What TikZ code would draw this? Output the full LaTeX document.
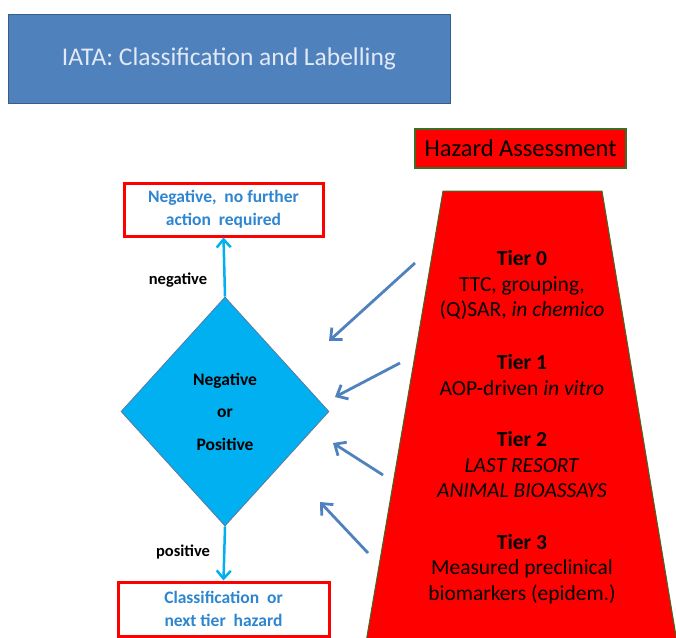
\documentclass[tikz,border=0pt]{standalone}
\usepackage{fontspec}
\setmainfont{Carlito}
\usetikzlibrary{arrows.meta,shapes.geometric}
\definecolor{titleblue}{RGB}{79,129,189}
\definecolor{titleedge}{RGB}{56,93,138}
\definecolor{titletext}{RGB}{225,233,245}
\definecolor{cyanfill}{RGB}{0,176,240}
\definecolor{arrowblue}{RGB}{79,129,189}
\definecolor{hazred}{RGB}{255,0,0}
\definecolor{hazgreen}{RGB}{60,110,40}
\definecolor{boxtext}{RGB}{46,134,208}
\definecolor{diaedge}{RGB}{90,120,160}
\tikzset{
  x=1pt, y=-1pt,
  titlebox/.style={draw=titleedge, line width=1pt, fill=titleblue, minimum width=442pt, minimum height=89pt, inner sep=0pt, text=titletext, font=\fontsize{25.5}{29}\selectfont},
  hazbox/.style={draw=hazgreen, line width=1.2pt, fill=hazred, minimum width=211pt, minimum height=39pt, inner sep=0pt, font=\fontsize{24.5}{28}\selectfont},
  resultbox/.style={draw=hazred, line width=3pt, fill=white, inner sep=0pt, align=center, text=boxtext, font=\bfseries\fontsize{17.5}{23}\selectfont},
  decision/.style={diamond, draw=diaedge, line width=0.8pt, fill=cyanfill, minimum width=208pt, minimum height=229pt, inner sep=0pt, aspect=0.908, align=center, font=\bfseries\fontsize{17.5}{32.5}\selectfont},
  cyanarrow/.style={draw=cyanfill, line width=2.5pt, -{Straight Barb[length=8pt,width=14pt,line width=2.5pt]}},
  bluearrow/.style={draw=arrowblue, line width=2.8pt, -{Straight Barb[length=9pt,width=16pt,line width=2.8pt]}},
  tiertext/.style={align=center, inner sep=0pt, font=\fontsize{21.5}{25.5}\selectfont},
  edgelabel/.style={inner sep=0pt, font=\bfseries\fontsize{16.5}{18}\selectfont},
}
\begin{document}
\begin{tikzpicture}
\useasboundingbox (0,0) rectangle (676,637);
% title
\node[titlebox] (title) at (229,58.5) {IATA: Classification and Labelling};
% hazard assessment label
\node[hazbox] (haz) at (520.5,148.5) {Hazard Assessment};
% trapezoid
\filldraw[fill=hazred, draw=hazgreen, line width=1pt] (443,191) -- (602,191) -- (678,648) -- (365,648) -- cycle;
\node[tiertext] (tier0) at (522,285) {\textbf{Tier 0}\\TTC, grouping,\\(Q)SAR, \textit{in chemico}};
\node[tiertext] (tier1) at (522,375) {\textbf{Tier 1}\\AOP-driven \textit{in vitro}};
\node[tiertext] (tier2) at (522,465) {\textbf{Tier 2}\\\textit{LAST RESORT}\\\textit{ANIMAL BIOASSAYS}};
\node[tiertext] (tier3) at (522,569) {\textbf{Tier 3}\\Measured preclinical\\biomarkers (epidem.)};
% decision diamond
\node[decision] (dec) at (225,411.5) {Negative\\or\\Positive};
% result boxes
\node[resultbox, minimum width=199pt, minimum height=53pt] (neg) at (223.5,209.5) {Negative,\ \ no further\\action\ \ required};
\node[resultbox, minimum width=211pt, minimum height=54pt] (pos) at (223.5,609) {Classification\ \ or\\next tier\ \ hazard};
% cyan arrows
\draw[cyanarrow] (dec.north) -- (neg.south);
\draw[cyanarrow] (dec.south) -- (pos.north);
\node[edgelabel] (neglab) at (178,280) {negative};
\node[edgelabel] (poslab) at (183,552) {positive};
% blue arrows from tiers
\coordinate (s0) at (415,263);
\coordinate (e0) at (329,341);
\coordinate (s1) at (400,363);
\coordinate (e1) at (335,397);
\coordinate (s2) at (383,475);
\coordinate (e2) at (333,443);
\coordinate (s3) at (368,553);
\coordinate (e3) at (320,502);
\draw[bluearrow] (s0) -- (e0);
\draw[bluearrow] (s1) -- (e1);
\draw[bluearrow] (s2) -- (e2);
\draw[bluearrow] (s3) -- (e3);
\end{tikzpicture}
\end{document}
